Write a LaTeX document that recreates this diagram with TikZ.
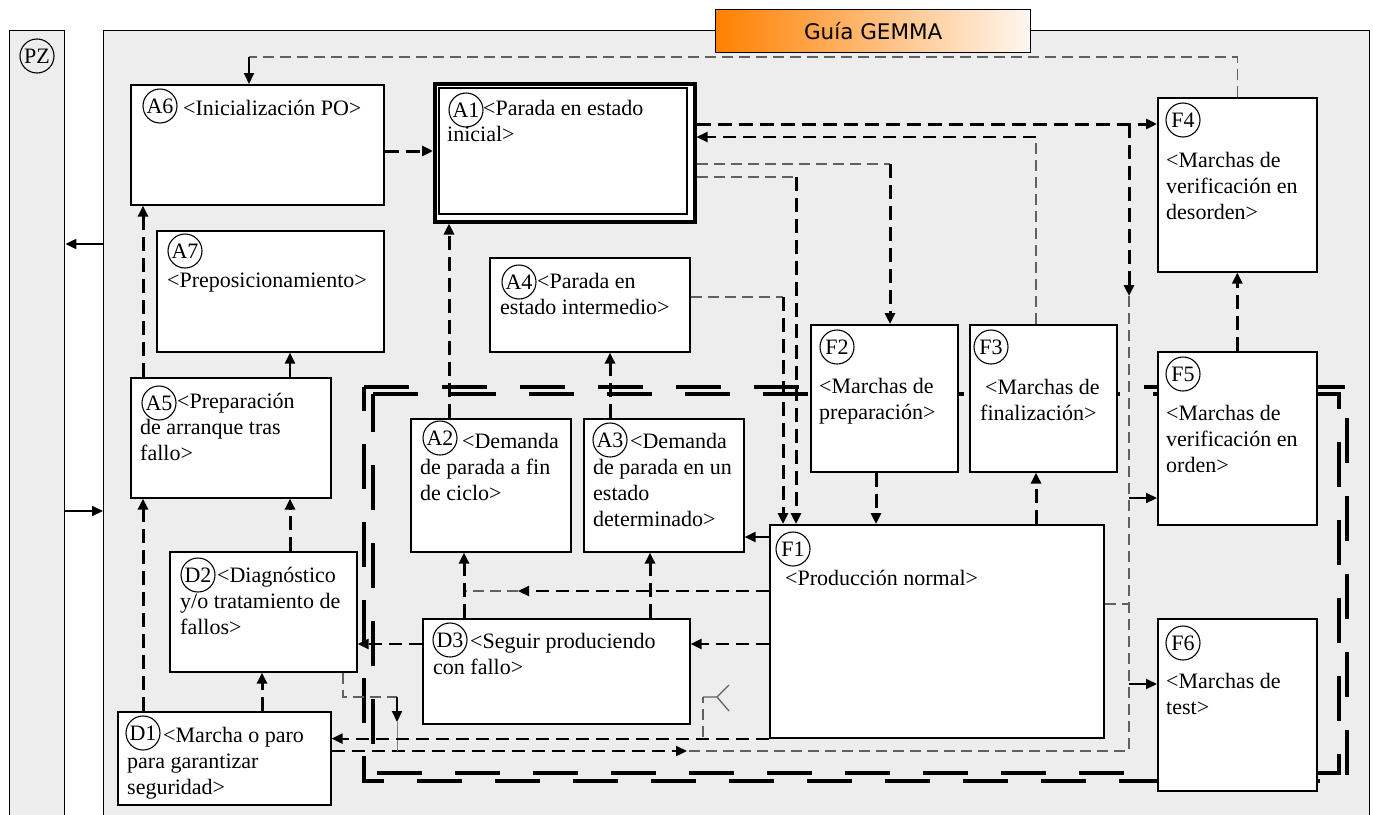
\documentclass[tikz,border=0pt]{standalone}
\usepackage{fontspec}
\setmainfont{Liberation Serif}
\newfontfamily\titlefont{DejaVu Sans}
\usetikzlibrary{arrows.meta}
\definecolor{panel}{RGB}{237,237,237}
\definecolor{gorange}{RGB}{255,128,0}
\definecolor{gwhite}{RGB}{255,247,240}
\newcommand\bx[5]{\node[box,minimum width={#4-#2},minimum height={#5-#3}] (#1) at (#2,#3) {};}
\newcommand\ml[1]{\begin{tabular}[t]{@{}l@{}}#1\end{tabular}}
\begin{document}
\begin{tikzpicture}[x=1pt,y=-1pt,
  every node/.style={font=\fontsize{22}{26.3}\selectfont},
  box/.style={draw,fill=white,line width=1.6pt,inner sep=0pt,anchor=north west},
  lab/.style={circle,draw,line width=1.1pt,minimum size=34pt,inner sep=0pt},
  txt/.style={anchor=base west,inner sep=0pt},
  tip/.style={-{Triangle[length=11pt,width=10pt]}},
  thk/.style={line width=3pt,dash pattern=on 14pt off 7pt},
  med/.style={line width=2.2pt,dash pattern=on 13pt off 7pt},
  thn/.style={line width=1.3pt,draw=gray!75!black,dash pattern=on 11pt off 6pt},
  sol/.style={line width=2pt},
  encl/.style={line width=4pt,dash pattern=on 45pt off 33pt}
]
\useasboundingbox (0,0) rectangle (1373,814);
% panels
\node[draw,fill=panel,line width=1.4pt,anchor=north west,inner sep=0pt,minimum width=55,minimum height=800] (PZ) at (9,30) {};
\node[draw,fill=panel,line width=1.4pt,anchor=north west,inner sep=0pt,minimum width=1266,minimum height=800] (main) at (103,30) {};
\node[lab] (cPZ) at (37,56) {PZ};
% title
\node[draw,line width=1.4pt,anchor=north west,inner sep=0pt,minimum width=315,minimum height=43,left color=gorange,right color=gwhite,font=\titlefont\fontsize{21.5}{24}\selectfont] (title) at (715,9) {Guía GEMMA};
% enclosure
\draw[encl] (364,387) -- (1347,387) -- (1347,781) -- (364,781) -- cycle;
\draw[encl] (373,394) -- (1339,394) -- (1339,773) -- (373,773) -- cycle;
% boxes
\bx{A6}{130}{84}{383}{204}
\node[box,line width=3.5pt,minimum width=260,minimum height=138] (A1) at (433,82) {};
\draw[line width=1.8pt] (439,88) rectangle (687,214);
\bx{A7}{156}{230}{383}{351}
\bx{A4}{489}{257}{689}{351}
\bx{A5}{130}{377}{330}{497}
\bx{A2}{410}{418}{570}{551}
\bx{A3}{583}{418}{743}{551}
\bx{F2}{810}{324}{957}{471}
\bx{F3}{969}{324}{1116}{471}
\bx{F4}{1157}{97}{1316}{271}
\bx{F5}{1157}{351}{1316}{524}
\bx{F6}{1157}{618}{1316}{790}
\bx{F1}{769}{524}{1103}{737}
\bx{D2}{169}{551}{356}{671}
\bx{D3}{422}{618}{689}{723}
\bx{D1}{117}{711}{330}{804}
% connectors
\draw[sol,tip] (main.west |- 0,244) -- (PZ.east |- 0,244);
\draw[sol,tip] (PZ.east |- 0,511) -- (main.west |- 0,511);
\coordinate (t1) at (249,57);
\draw[thn] (F4.north) |- (t1);
\draw[sol,tip] (t1) -- (t1 |- A6.north);
\draw[thk,tip] (A6.east |- 0,151) -- (A1.west |- 0,151);
\draw[thk,tip] (A1.east |- 0,124) -- (F4.west |- 0,124);
\coordinate (j1) at (1129,124);
\coordinate (j2) at (1129,296);
\coordinate (j3) at (1129,751);
\coordinate (j4) at (687,751);
\coordinate (j5) at (1129,498);
\coordinate (j6) at (1129,684);
\coordinate (j7) at (1129,604);
\draw[thk,tip] (j1) -- (j2);
\draw[thn] (j2) -- (j3) -- (j4);
\draw[med,tip] (D1.east |- j4) -- (j4);
\draw[sol,tip] (j5) -- (F5.west |- j5);
\draw[sol,tip] (j6) -- (F6.west |- j6);
\draw[thn] (F1.east |- j7) -- (j7);
\coordinate (k1) at (1036,137);
\draw[thn] (F3.north -| k1) -- (k1);
\draw[med,tip] (k1) -- (A1.east |- k1);
\coordinate (k2) at (890,164);
\draw[thn] (A1.east |- k2) -- (k2);
\draw[thk,tip] (k2) -- (F2.north -| k2);
\coordinate (k3) at (796,177);
\draw[thn] (A1.east |- k3) -- (k3);
\draw[thk,tip] (k3) -- (F1.north -| k3);
\coordinate (k4) at (783,297);
\draw[thn] (A4.east |- k4) -- (k4);
\draw[thk,tip] (k4) -- (F1.north -| k4);
\draw[thk,tip] (F2.south -| 876,0) -- (F1.north -| 876,0);
\draw[thk,tip] (F1.north -| 1036,0) -- (F3.south -| 1036,0);
\draw[thk,tip] (F5.north) -- (F4.south);
\draw[sol,tip] (F1.west |- 0,537) -- (A3.east |- 0,537);
\draw[thk,tip] (A3.north -| 610,0) -- (A4.south -| 610,0);
\draw[thk,tip] (A2.north -| 449,0) -- (A1.south -| 449,0);
\coordinate (m1) at (518,591);
\coordinate (m2) at (464,591);
\draw[med,tip] (F1.west |- m1) -- (m1);
\draw[thn] (m1) -- (m2);
\draw[thk,tip] (D3.north -| m2) -- (A2.south -| m2);
\draw[thk,tip] (D3.north -| 650,0) -- (A3.south -| 650,0);
\draw[med,tip] (F1.west |- 0,644) -- (D3.east |- 0,644);
\draw[med,tip] (D3.west |- 0,644) -- (D2.east |- 0,644);
\draw[thk,tip] (D1.north -| 262,0) -- (D2.south -| 262,0);
\draw[thk,tip] (D1.north -| 143,0) -- (A5.south -| 143,0);
\draw[thk,tip] (D2.north -| 290,0) -- (A5.south -| 290,0);
\draw[sol,tip] (A5.north -| 290,0) -- (A7.south -| 290,0);
\draw[thk,tip] (A5.north -| 143,0) -- (A6.south -| 143,0);
\coordinate (n1) at (343,697);
\coordinate (n2) at (397,697);
\coordinate (n3) at (397,722);
\coordinate (n4) at (397,751);
\draw[thn] (D2.south -| n1) -- (n1) -- (n2);
\draw[sol,tip] (n2) -- (n3);
\draw[line width=0.8pt,gray] (n3) -- (n4);
\draw[med,tip] (F1.south west) -- (D1.east |- F1.south west);
\coordinate (f0) at (703,737);
\coordinate (f1) at (703,697);
\coordinate (f2) at (717,697);
\coordinate (f3) at (729,685);
\coordinate (f4) at (729,711);
\draw[thn] (f0) -- (f1);
\draw[line width=1.3pt,gray!75!black] (f1) -- (f2) -- (f3) (f2) -- (f4);
% labels
\node[lab] (cA6) at (160,106) {A6};
\node[lab] (cA1) at (466,110) {A1};
\node[lab] (cA7) at (185,251) {A7};
\node[lab] (cA4) at (519,282) {A4};
\node[lab] (cA5) at (159,403) {A5};
\node[lab] (cA2) at (440,438) {A2};
\node[lab] (cA3) at (610,440) {A3};
\node[lab] (cF2) at (837,347) {F2};
\node[lab] (cF3) at (991,347) {F3};
\node[lab] (cF4) at (1183,120) {F4};
\node[lab] (cF5) at (1183,374) {F5};
\node[lab] (cF6) at (1183,643) {F6};
\node[lab] (cF1) at (793,549) {F1};
\node[lab] (cD2) at (198,575) {D2};
\node[lab] (cD3) at (450,640) {D3};
\node[lab] (cD1) at (143,733) {D1};
% texts
\node[txt] (tA6) at (183,115) {<Inicialización PO>};
\node[txt] (tA1) at (447,115) {\ml{\hspace*{36pt}<Parada en estado\\inicial>}};
\node[txt] (tA7) at (167,287) {<Preposicionamiento>};
\node[txt] (tA4) at (500,288) {\ml{\hspace*{37pt}<Parada en\\estado intermedio>}};
\node[txt] (tA5) at (140,408) {\ml{\hspace*{37pt}<Preparación\\de arranque tras\\fallo>}};
\node[txt] (tA2) at (420,448) {\ml{\hspace*{42pt}<Demanda\\de parada a fin\\de ciclo>}};
\node[txt] (tA3) at (593,448) {\ml{\hspace*{37pt}<Demanda\\de parada en un\\estado\\determinado>}};
\node[txt] (tF2) at (819,393) {\ml{<Marchas de\\preparación>}};
\node[txt] (tF3) at (980,394) {\ml{\hspace*{5pt}<Marchas de\\finalización>}};
\node[txt] (tF4) at (1166,167) {\ml{<Marchas de\\verificación en\\desorden>}};
\node[txt] (tF5) at (1166,420) {\ml{<Marchas de\\verificación en\\orden>}};
\node[txt] (tF6) at (1166,688) {\ml{<Marchas de\\test>}};
\node[txt] (tF1) at (785,585) {<Producción normal>};
\node[txt] (tD2) at (180,582) {\ml{\hspace*{37pt}<Diagnóstico\\y/o tratamiento de\\fallos>}};
\node[txt] (tD3) at (433,648) {\ml{\hspace*{37pt}<Seguir produciendo\\con fallo>}};
\node[txt] (tD1) at (127,742) {\ml{\hspace*{36pt}<Marcha o paro\\para garantizar\\seguridad>}};
\end{tikzpicture}
\end{document}
